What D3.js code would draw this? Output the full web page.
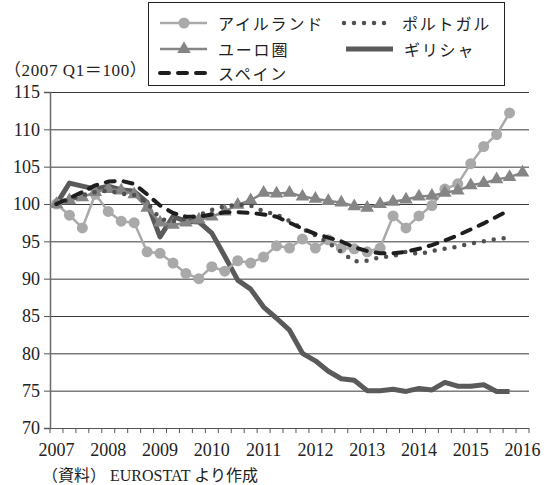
<!DOCTYPE html>
<html>
<head>
<meta charset="utf-8">
<script src="https://cdn.jsdelivr.net/npm/d3@7"></script>
<style>
	body { margin: 0; background: #fff; }
	svg { display: block; }
	text { font-family: "Liberation Serif", "Noto Sans CJK JP", serif; fill: #222; }
	.jp { font-family: "Noto Sans CJK JP", sans-serif; }
</style>
</head>
<body>
<svg width="548" height="485"></svg>
<script>
(function() {
	"use strict"

	// quarters 2007Q1 .. 2016Q1 (37 categories), year labels on Q1
	var yearLabels = ["2007", "2008", "2009", "2010", "2011", "2012", "2013", "2014", "2015", "2016"],
		yTicks = [70, 75, 80, 85, 90, 95, 100, 105, 110, 115];

	var ireland = [100.0, 98.5, 96.8, 101.3, 99.0, 97.7, 97.5, 93.6, 93.4, 92.1, 90.7, 90.0,
		91.6, 91.0, 92.4, 92.1, 92.9, 94.4, 94.1, 95.3, 94.1, 95.2, 94.1, 94.0,
		93.6, 94.1, 98.4, 96.8, 98.4, 99.8, 102.0, 102.7, 105.4, 107.7, 109.3, 112.2];
	var euro = [100.0, 100.5, 100.9, 101.6, 102.0, 101.8, 101.3, 99.5, 97.5, 97.2, 97.5, 97.9,
		98.3, 99.0, 99.9, 100.5, 101.5, 101.4, 101.5, 101.0, 100.7, 100.4, 100.2, 99.7,
		99.5, 100.0, 100.3, 100.6, 101.0, 101.1, 101.5, 101.8, 102.5, 102.8, 103.3, 103.6, 104.2];
	var spain = [100.0, 100.8, 101.6, 102.5, 103.0, 103.1, 102.7, 101.3, 99.8, 98.8, 98.3, 98.3,
		98.6, 98.9, 98.9, 98.8, 98.6, 98.3, 97.5, 96.7, 96.0, 95.5, 95.0, 94.2,
		93.7, 93.4, 93.4, 93.6, 94.0, 94.5, 95.1, 95.8, 96.6, 97.4, 98.3, 99.2];
	var portugal = [100.0, 100.6, 101.2, 101.6, 101.8, 101.4, 101.2, 100.2, 98.0, 97.7, 98.0, 98.5,
		99.2, 99.7, 99.9, 99.8, 99.0, 98.6, 97.7, 96.7, 95.8, 94.8, 93.6, 92.3,
		92.4, 92.9, 93.0, 93.6, 93.3, 93.7, 94.0, 94.3, 94.7, 95.0, 95.3, 95.5];
	var greece = [100.0, 102.8, 102.4, 102.0, 102.4, 101.9, 101.7, 100.2, 95.6, 98.3, 97.7, 97.6,
		96.1, 93.0, 89.8, 88.6, 86.2, 84.7, 83.1, 80.0, 79.0, 77.6, 76.6, 76.4,
		75.0, 75.0, 75.2, 74.9, 75.3, 75.1, 76.1, 75.6, 75.6, 75.8, 74.9, 74.9];

	var quarters = [],
		i, q;
	for (i = 0; i < yearLabels.length; ++i) {
		for (q = 1; q <= 4; ++q) {
			if (i === yearLabels.length - 1 && q > 1) { break; }
			quarters.push(yearLabels[i] + "Q" + q);
		}
	}

	var svg = d3.select("svg"),
		left = 50, right = 529, top = 92, bottom = 428;

	var x = d3.scaleBand().domain(d3.range(quarters.length)).range([left, right]).padding(0),
		y = d3.scaleLinear().domain([70, 115]).range([bottom, top]);

	function cx(i) { return x(i) + x.bandwidth() / 2; }

	// grid lines
	svg.append("g")
		.selectAll("line")
		.data(yTicks)
		.enter()
		.append("line")
			.attr("x1", left)
			.attr("x2", right)
			.attr("y1", function(d) { return y(d) + 0.5; })
			.attr("y2", function(d) { return y(d) + 0.5; })
			.style("stroke", function(d) { return d === 70 ? "#555" : "#3a3a3a"; })
			.style("stroke-width", 1);

	// y axis
	var yAxis = svg.append("g")
		.attr("transform", "translate(" + left + ",0)")
		.call(d3.axisLeft(y).tickValues(yTicks).tickSize(6).tickPadding(4));
	yAxis.select(".domain").style("stroke", "#6a6a6a").style("stroke-width", 1.5);
	yAxis.selectAll(".tick line").style("stroke", "#555");
	yAxis.selectAll(".tick text").style("font-size", "18px").style("font-family", "Liberation Serif").attr("fill", "#222");

	// x axis: ticks at every category boundary
	var boundaries = d3.range(quarters.length + 1).map(function(k) {
		return left + k * x.bandwidth();
	});
	svg.append("g")
		.selectAll("line")
		.data(boundaries)
		.enter()
		.append("line")
			.attr("x1", function(d) { return d; })
			.attr("x2", function(d) { return d; })
			.attr("y1", bottom)
			.attr("y2", bottom + 5)
			.style("stroke", "#555")
			.style("stroke-width", 1);

	svg.append("g")
		.selectAll("text")
		.data(yearLabels)
		.enter()
		.append("text")
			.attr("x", function(d, k) { return cx(k * 4); })
			.attr("y", 456)
			.attr("text-anchor", "middle")
			.style("font-size", "18px")
			.text(function(d) { return d; });

	// series
	var series = [
		{ name: "ギリシャ", values: greece, color: "#5a5a5a", width: 5, dash: null, marker: null },
		{ name: "アイルランド", values: ireland, color: "#a9a9a9", width: 2.5, dash: null, marker: "circle" },
		{ name: "ユーロ圏", values: euro, color: "#858585", width: 2.5, dash: null, marker: "triangle" },
		{ name: "ポルトガル", values: portugal, color: "#505050", width: 4.5, dash: "0,10", marker: null },
		{ name: "スペイン", values: spain, color: "#1e1e1e", width: 4, dash: "9,9", marker: null }
	];

	var line = d3.line()
		.x(function(d, k) { return cx(k); })
		.y(function(d) { return y(d); });

	series.forEach(function(s) {
		svg.append("path")
			.datum(s.values)
			.attr("d", line)
			.style("fill", "none")
			.style("stroke", s.color)
			.style("stroke-width", s.width)
			.style("stroke-linejoin", "round")
			.style("stroke-linecap", s.dash ? "round" : "butt")
			.style("stroke-dasharray", s.dash);

		if (s.marker) {
			svg.append("g")
				.selectAll("path")
				.data(s.values)
				.enter()
				.append("path")
					.attr("transform", function(d, k) { return "translate(" + cx(k) + "," + y(d) + ")"; })
					.attr("d", d3.symbol().type(s.marker === "circle" ? d3.symbolCircle : d3.symbolTriangle).size(s.marker === "circle" ? 95 : 80))
					.style("fill", s.color);
		}
	});

	// legend
	var legend = svg.append("g");
	legend.append("rect")
		.attr("x", 148.5)
		.attr("y", 2.5)
		.attr("width", 356)
		.attr("height", 83)
		.style("fill", "#fff")
		.style("stroke", "#222")
		.style("stroke-width", 1);

	var legendItems = [
		{ s: series[1], x: 160, y: 23 },
		{ s: series[2], x: 160, y: 49 },
		{ s: series[4], x: 160, y: 73 },
		{ s: series[3], x: 344, y: 23 },
		{ s: series[0], x: 346, y: 49 }
	];

	legendItems.forEach(function(it) {
		var s = it.s,
			g = legend.append("g").attr("transform", "translate(" + it.x + "," + it.y + ")");
		g.append("line")
			.attr("x1", 0)
			.attr("x2", 47)
			.attr("y1", 0)
			.attr("y2", 0)
			.style("stroke", s.color)
			.style("stroke-width", s.width)
			.style("stroke-linecap", s.dash ? "round" : "butt")
			.style("stroke-dasharray", s.dash);
		if (s.marker) {
			g.append("path")
				.attr("transform", "translate(24,0)")
				.attr("d", d3.symbol().type(s.marker === "circle" ? d3.symbolCircle : d3.symbolTriangle).size(s.marker === "circle" ? 95 : 80))
				.style("fill", s.color);
		}
		g.append("text")
			.attr("class", "jp")
			.attr("x", 58)
			.attr("y", 0)
			.attr("dominant-baseline", "central")
			.style("font-size", "16px")
			.style("letter-spacing", "1.8px")
			.text(s.name);
	});

	svg.append("text")
		.attr("x", 4)
		.attr("y", 76)
		.style("font-size", "17px")
		.style("letter-spacing", "0.6px")
		.text("（2007 Q1＝100）");

	svg.append("text")
		.attr("x", 42)
		.attr("y", 481)
		.style("font-size", "16px")
		.text("（資料） EUROSTAT より作成");
})();
</script>
</body>
</html>
